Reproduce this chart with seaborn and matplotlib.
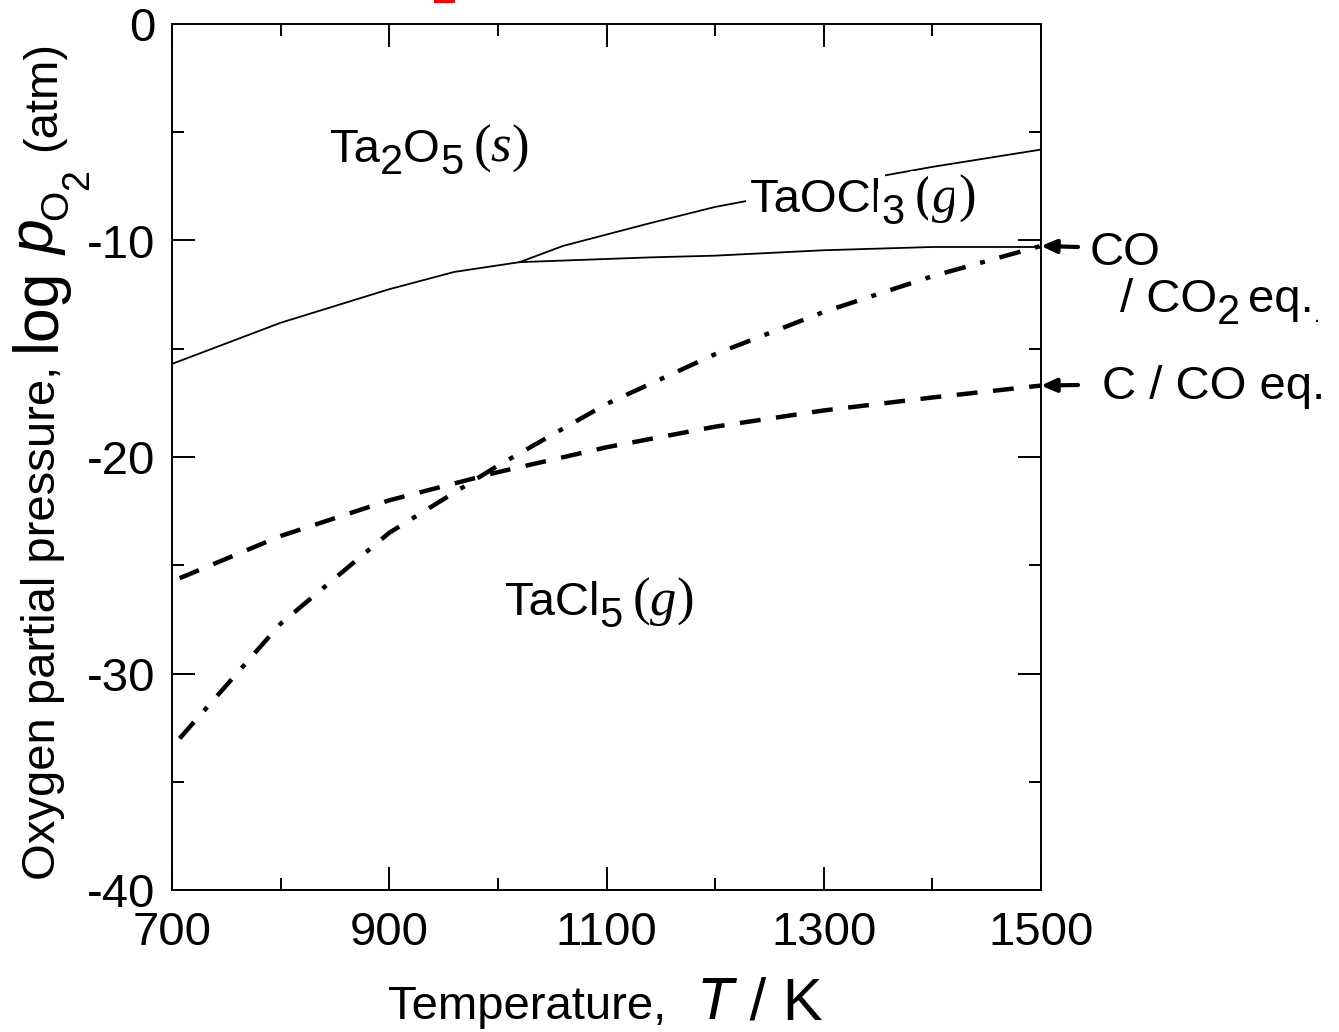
import numpy as np
import pandas as pd
import matplotlib
matplotlib.use("Agg")
import matplotlib.pyplot as plt
import seaborn as sns
from matplotlib.ticker import FixedLocator, MultipleLocator
from matplotlib.patches import Rectangle

# ---------------- data ----------------
t_oxide = [700, 800, 900, 960, 1020]
logp_oxide = [-15.7, -13.8, -12.25, -11.45, -11.0]

t_oxychl_low = [1020, 1140, 1200, 1300, 1400, 1500]
logp_oxychl_low = [-11.0, -10.78, -10.7, -10.45, -10.3, -10.3]

t_oxychl_up = [1020, 1060, 1140, 1200, 1300, 1400, 1500]
logp_oxychl_up = [-11.0, -10.25, -9.2, -8.45, -7.5, -6.6, -5.8]

t_eq = [707, 800, 900, 1000, 1100, 1200, 1300, 1400, 1500]
logp_c_co = [-25.6, -23.65, -22.0, -20.7, -19.55, -18.6, -17.85, -17.25, -16.7]
logp_co_co2 = [-33.0, -27.7, -23.5, -20.4, -17.55, -15.25, -13.3, -11.65, -10.25]

xtick_vals = [700, 900, 1100, 1300, 1500]
xtick_labels = ["700", "900", "1100", "1300", "1500"]
ytick_vals = [0, -10, -20, -30, -40]
ytick_labels = ["0", "-10", "-20", "-30", "-40"]

# ---------------- style ----------------
sns.set_style("ticks")
SANS = "Liberation Sans"
SERIF = "Liberation Serif"
plt.rcParams["font.family"] = [SANS, "DejaVu Sans"]
plt.rcParams["axes.unicode_minus"] = False

W, H = 1339, 1032
fig = plt.figure(figsize=(W / 100, H / 100), dpi=100)
fig.patch.set_facecolor("white")
ax = fig.add_axes([172 / W, (H - 890) / H, (1041 - 172) / W, (890 - 24) / H])
ax.set_facecolor("white")

LW_THIN = 1.3
LW_THICK = 3.2
sns.lineplot(x=t_oxide, y=logp_oxide, ax=ax, color="k", lw=LW_THIN, sort=False, estimator=None)
sns.lineplot(x=t_oxychl_low, y=logp_oxychl_low, ax=ax, color="k", lw=LW_THIN, sort=False, estimator=None)
sns.lineplot(x=t_oxychl_up, y=logp_oxychl_up, ax=ax, color="k", lw=LW_THIN, sort=False, estimator=None)
sns.lineplot(x=t_eq, y=logp_c_co, ax=ax, color="k", lw=LW_THICK, sort=False, estimator=None,
             linestyle=(0, (4.7, 3.5)))
sns.lineplot(x=t_eq, y=logp_co_co2, ax=ax, color="k", lw=LW_THICK, sort=False, estimator=None,
             linestyle=(0, (4.9, 3.4, 1.1, 3.4)))
for ln in ax.lines:
    ln.set_dash_capstyle("butt")

ax.set_xlim(700, 1500)
ax.set_ylim(-40, 0)
ax.xaxis.set_major_locator(FixedLocator(xtick_vals))
ax.set_xticklabels(xtick_labels)
ax.xaxis.set_minor_locator(MultipleLocator(100))
ax.yaxis.set_major_locator(FixedLocator(ytick_vals))
ax.set_yticklabels(ytick_labels)
ax.yaxis.set_minor_locator(MultipleLocator(5))
ax.set_xlabel("")
ax.set_ylabel("")
for sp in ax.spines.values():
    sp.set_visible(True)
    sp.set_linewidth(1.4)
    sp.set_color("k")
ax.tick_params(which="both", direction="in", top=True, right=True, width=1.4, color="k")
ax.tick_params(which="major", length=16.5)
ax.tick_params(which="minor", length=8.6)
ax.tick_params(axis="x", which="major", labelsize=34, pad=15, labelcolor="k")
ax.tick_params(axis="y", which="major", labelsize=34, pad=12, labelcolor="k")
ax.grid(False)

# ---------------- composite text helper ----------------
renderer = fig.canvas.get_renderer()


def chain(pieces, x0, y0, rot=0, bbox=None):
    """Draw text pieces along a common baseline; x0,y0 in image pixels (y down)."""
    pos = 0.0
    for p in pieces:
        pos += p.get("gap", 0)
        shift = p.get("shift", 0)
        if rot == 0:
            x, y = x0 + pos, (H - y0) - shift
        else:
            x, y = x0 + shift, (H - y0) + pos
        t = fig.text(x / W, y / H, p["s"], rotation=rot, rotation_mode="anchor",
                     ha="left", va="baseline", fontsize=p["size"],
                     family=p.get("family", SANS), style=p.get("style", "normal"),
                     color="k")
        if bbox is not None:
            t.set_bbox(bbox)
        ext = t.get_window_extent(renderer)
        pos += ext.width if rot == 0 else ext.height


# axis labels
chain([dict(s="Temperature,", size=34),
       dict(s="T", size=43, style="italic", gap=30),
       dict(s=" / K", size=43)], 388, 1019)

chain([dict(s="Oxygen partial pressure,", size=34),
       dict(s="log", size=45, gap=15),
       dict(s="p", size=45, style="italic", gap=12),
       dict(s="O", size=28, shift=12),
       dict(s="2", size=27, shift=33),
       dict(s="(atm)", size=34, gap=18)], 55, 880, rot=90)

# region labels
chain([dict(s="Ta", size=34),
       dict(s="2", size=30, shift=12),
       dict(s="O", size=34),
       dict(s="5", size=30, shift=12),
       dict(s="(", size=38, family=SERIF, gap=10),
       dict(s="s", size=38, family=SERIF, style="italic"),
       dict(s=")", size=38, family=SERIF)], 330, 162)

chain([dict(s="TaCl", size=34),
       dict(s="5", size=30, shift=12),
       dict(s="(", size=38, family=SERIF, gap=10),
       dict(s="g", size=38, family=SERIF, style="italic"),
       dict(s=")", size=38, family=SERIF)], 505, 615)

chain([dict(s="TaOCl", size=34),
       dict(s="3", size=30, shift=12),
       dict(s="(", size=38, family=SERIF, gap=10),
       dict(s="g", size=38, family=SERIF, style="italic"),
       dict(s=")", size=38, family=SERIF)], 750, 212,
      bbox=dict(facecolor="white", edgecolor="none", pad=3))

# right-hand labels
chain([dict(s="CO", size=34)], 1090, 265)
chain([dict(s="/ CO", size=34),
       dict(s="2", size=30, shift=12),
       dict(s="eq.", size=34, gap=8),
       dict(s=".", size=16, shift=10)], 1120, 312)
chain([dict(s="C / CO eq.", size=34)], 1102, 399)

arrow_kw = dict(arrowstyle="-|>,head_length=0.45,head_width=0.2", color="k", lw=3,
                shrinkA=0, shrinkB=0, mutation_scale=20)
ax.annotate("", xy=(t_eq[-1], logp_co_co2[-1]), xycoords="data",
            xytext=(1078, H - 247), textcoords="figure pixels",
            arrowprops=arrow_kw, annotation_clip=False)
ax.annotate("", xy=(t_eq[-1], logp_c_co[-1]), xycoords="data",
            xytext=(1078, H - 385), textcoords="figure pixels",
            arrowprops=arrow_kw, annotation_clip=False)

# small red mark at the top edge of the reference
fig.patches.append(Rectangle((434 / W, 1 - 2 / H), 20 / W, 2 / H,
                             transform=fig.transFigure, color="red"))

fig.savefig("out.png", dpi=100)
